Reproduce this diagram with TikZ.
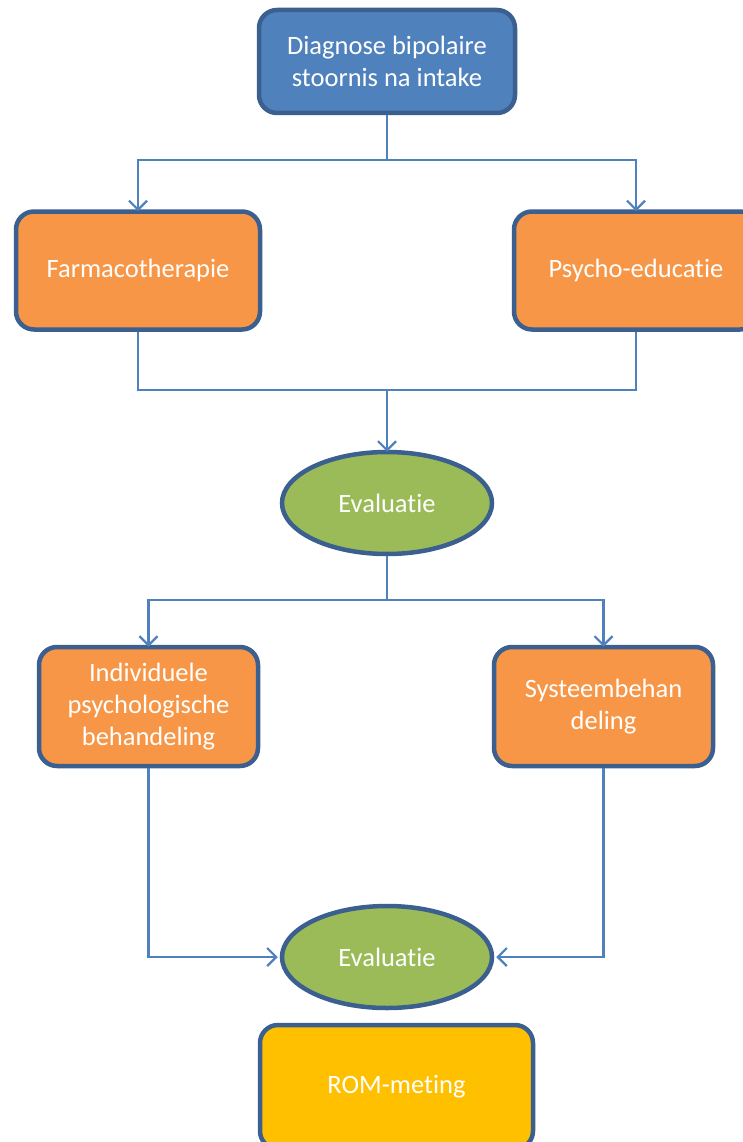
\documentclass[tikz,border=0pt]{standalone}
\usepackage{fontspec}
\setmainfont{Carlito}[RawFeature={-liga}]
\usetikzlibrary{arrows.meta,shapes.geometric}
\definecolor{bluefill}{HTML}{4F81BD}
\definecolor{orangefill}{HTML}{F79646}
\definecolor{greenfill}{HTML}{9BBB59}
\definecolor{goldfill}{HTML}{FFC000}
\definecolor{border}{HTML}{3B5F8F}
\definecolor{linkc}{HTML}{4F81BD}
\tikzset{
  box/.style={rectangle, rounded corners=18pt, draw=border, line width=4.5pt, text=white, inner sep=0pt, align=center, font=\fontsize{26.5}{32}\selectfont},
  oval/.style={ellipse, draw=border, line width=4.5pt, fill=greenfill, text=white, inner sep=0pt, minimum width=210pt, minimum height=102pt, font=\fontsize{26.5}{32}\selectfont},
  link/.style={draw=linkc, line width=2.2pt},
  arr/.style={link, -{Straight Barb[length=9pt,width=18pt,line width=2.2pt]}}
}
\begin{document}
\begin{tikzpicture}[x=1pt,y=-1pt]
\useasboundingbox (0,0) rectangle (743,1142);
\clip (0,0) rectangle (743,1142);
\node[box, fill=bluefill, minimum width=256pt, minimum height=103pt] (diag) at (387,61.5) {Diagnose bipolaire\\stoornis na intake};
\node[box, fill=orangefill, minimum width=244pt, minimum height=118pt] (farm) at (138,270.5) {Farmacotherapie};
\node[box, fill=orangefill, minimum width=244pt, minimum height=118pt] (psy) at (636,270.5) {Psycho-educatie};
\node[oval] (ev1) at (387,503) {Evaluatie};
\node[box, fill=orangefill, minimum width=219pt, minimum height=119pt] (ind) at (148.5,706.5) {Individuele\\psychologische\\behandeling};
\node[box, fill=orangefill, minimum width=219pt, minimum height=119pt] (sys) at (603.5,706.5) {Systeembehan\\deling};
\node[oval] (ev2) at (387,957) {Evaluatie};
\node[box, fill=goldfill, minimum width=273pt, minimum height=124pt] (rom) at (396.5,1087) {ROM-meting};
\coordinate (j1) at (387,160);
\coordinate (j2) at (387,390);
\coordinate (j3) at (387,600);
\draw[link] (diag.south) -- (j1);
\draw[arr] (j1) -| ([yshift=-2pt]farm.north);
\draw[arr] (j1) -| ([yshift=-2pt]psy.north);
\draw[link] (farm.south) |- (j2);
\draw[link] (psy.south) |- (j2);
\draw[arr] (j2) -- ([yshift=-2pt]ev1.north);
\draw[link] (ev1.south) -- (j3);
\draw[arr] (j3) -| ([yshift=-2pt]ind.north);
\draw[arr] (j3) -| ([yshift=-2pt]sys.north);
\draw[arr] (ind.south) |- ([xshift=-2pt]ev2.west);
\draw[arr] (sys.south) |- ([xshift=2pt]ev2.east);
\end{tikzpicture}
\end{document}
